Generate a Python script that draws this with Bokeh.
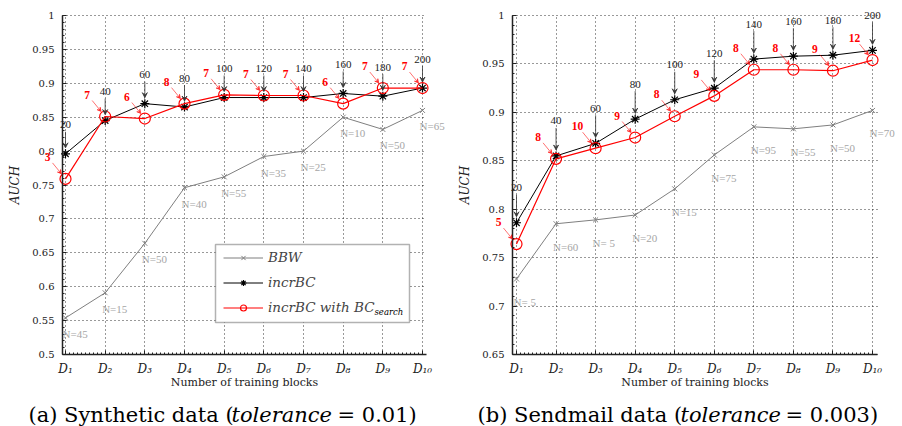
import numpy as np
from bokeh.plotting import figure
from bokeh.models import (ColumnDataSource, LabelSet, Arrow, VeeHead, Legend,
                          LegendItem, FixedTicker, Range1d, BoxAnnotation)
from bokeh.layouts import row, column
from bokeh.core.properties import value
from bokeh.embed import file_html
from bokeh.resources import INLINE

# ---------------- data ----------------
blocks = [1, 2, 3, 4, 5, 6, 7, 8, 9, 10]
block_labels = ["D\u2081", "D\u2082", "D\u2083", "D\u2084", "D\u2085",
                "D\u2086", "D\u2087", "D\u2088", "D\u2089", "D\u2081\u2080"]
incr_sizes = [20, 40, 60, 80, 100, 120, 140, 160, 180, 200]

# (a) Synthetic data
syn_bbw = [0.554, 0.591, 0.664, 0.746, 0.762, 0.792, 0.800, 0.850, 0.832, 0.860]
syn_incr = [0.796, 0.845, 0.870, 0.865, 0.879, 0.879, 0.879, 0.885, 0.881, 0.893]
syn_search = [0.759, 0.851, 0.848, 0.870, 0.883, 0.882, 0.882, 0.870, 0.893, 0.893]
syn_n = [45, 15, 50, 40, 55, 35, 25, 10, 50, 65]
syn_red = [3, 7, 6, 8, 7, 7, 7, 6, 7, 7]
syn_yticks = [0.5, 0.55, 0.6, 0.65, 0.7, 0.75, 0.8, 0.85, 0.9, 0.95, 1.0]
syn_ylabels = ["0.5", "0.55", "0.6", "0.65", "0.7", "0.75", "0.8", "0.85", "0.9", "0.95", "1"]
syn_caption = ["(a) Synthetic data (", "tolerance", " = 0.01)"]

# (b) Sendmail data
snd_bbw = [0.728, 0.785, 0.789, 0.794, 0.821, 0.856, 0.885, 0.883, 0.887, 0.902]
snd_incr = [0.786, 0.855, 0.868, 0.893, 0.913, 0.925, 0.955, 0.958, 0.959, 0.964]
snd_search = [0.764, 0.852, 0.863, 0.874, 0.896, 0.917, 0.944, 0.944, 0.943, 0.954]
snd_n = [5, 60, 5, 20, 15, 75, 95, 55, 50, 70]
snd_red = [5, 8, 10, 9, 8, 9, 8, 8, 9, 12]
snd_yticks = [0.65, 0.7, 0.75, 0.8, 0.85, 0.9, 0.95, 1.0]
snd_ylabels = ["0.65", "0.7", "0.75", "0.8", "0.85", "0.9", "0.95", "1"]
snd_caption = ["(b) Sendmail data (", "tolerance", " = 0.003)"]

FONT = "DejaVu Serif"
GRAY = "#7f7f7f"
NGRAY = "#a6a6a6"
RED = "#ff0000"
VIS_H = 339      # pixel height between lowest tick and 1.0
TOP_PAD = 15     # pixels above 1.0
MAIN_H = 398     # canvas height of each chart
AXIS_Y = TOP_PAD + VIS_H   # pixel row of the x axis


def make_panel(bbw, incr, search, n_vals, red_vals, yticks, ylabels,
               ppx, first_pad, axis_px, vis_w, width, black_up, n_down, legend=False):
    y_vis0 = yticks[0]
    ppy = VIS_H / (1.0 - y_vis0)
    y_end = 1.0 + TOP_PAD / ppy
    y_start = y_vis0 - (MAIN_H - AXIS_Y) / ppy
    x_vis0 = 1 - first_pad / ppx
    x_start = x_vis0 - axis_px / ppx
    x_end = x_start + width / ppx
    x_vis1 = x_vis0 + vis_w / ppx

    def px_x(px):
        return x_start + px / ppx

    def px_y(py):
        return y_start + (MAIN_H - py) / ppy

    p = figure(width=width, height=MAIN_H, x_range=Range1d(x_start, x_end),
               y_range=Range1d(y_start, y_end), output_backend="svg",
               toolbar_location=None, min_border=0)
    p.outline_line_color = None
    p.background_fill_color = "white"
    p.border_fill_color = "white"

    # axes
    p.xaxis.ticker = FixedTicker(ticks=blocks,
                                 minor_ticks=[t for t in np.round(np.arange(1, 10.05, 0.1), 2)])
    p.xaxis.major_label_overrides = {b: l for b, l in zip(blocks, block_labels)}
    p.yaxis.ticker = FixedTicker(ticks=yticks,
                                 minor_ticks=[t for t in np.round(np.arange(y_vis0, 1.0005, 0.01), 3)])
    p.yaxis.major_label_overrides = {t: l for t, l in zip(yticks, ylabels)}
    p.yaxis.fixed_location = x_vis0
    p.xaxis.fixed_location = y_vis0
    p.xaxis.bounds = (x_vis0, x_vis1)
    p.yaxis.bounds = (y_vis0, 1.0)
    for ax in (p.xaxis, p.yaxis):
        ax.axis_line_width = 1.5
        ax.axis_line_color = "#222222"
        ax.major_tick_in = 4
        ax.major_tick_out = 0
        ax.minor_tick_in = 2
        ax.minor_tick_out = 0
        ax.major_tick_line_color = "#222222"
        ax.minor_tick_line_color = "#222222"
        ax.major_label_text_font = FONT
        ax.axis_label_text_font = FONT
        ax.major_label_text_color = "#222222"
        ax.axis_label_text_color = "#222222"
    p.xaxis.major_label_text_font_size = "12px"
    p.xaxis.major_label_text_font_style = "italic"
    p.xaxis.major_label_standoff = 7
    p.xaxis.axis_label = "Number of training blocks"
    p.xaxis.axis_label_text_font_size = "11px"
    p.xaxis.axis_label_text_font_style = "normal"
    p.xaxis.axis_label_standoff = -3
    p.yaxis.major_label_text_font_size = "10px"
    p.yaxis.major_label_standoff = 8
    p.yaxis.axis_label = "AUCH"
    p.yaxis.axis_label_text_font_size = "12px"
    p.yaxis.axis_label_text_font_style = "italic"
    p.yaxis.axis_label_standoff = 7

    p.xgrid.cross_bounds = (y_vis0, 1.0)
    p.ygrid.cross_bounds = (x_vis0, x_vis1)
    for g in (p.xgrid, p.ygrid):
        g.grid_line_color = "black"
        g.grid_line_alpha = 0.8
        g.grid_line_dash = "1 3"
        g.grid_line_width = 1

    if legend:
        # white legend panel (hides the grid), drawn just above the grid
        p.add_layout(BoxAnnotation(left=px_x(215), right=px_x(409), top=px_y(244),
                                   bottom=px_y(322), fill_color="white", fill_alpha=1.0,
                                   line_color="black", line_width=1.5, level="underlay"))

    # series
    gl = p.line(blocks, bbw, line_color=GRAY, line_width=1)
    gm = p.scatter(blocks, bbw, marker="x", size=7, line_color=GRAY, line_width=1)
    bl = p.line(blocks, incr, line_color="black", line_width=1)
    bm = p.scatter(blocks, incr, marker="asterisk", size=9, line_color="black", line_width=1.2)
    rl = p.line(blocks, search, line_color=RED, line_width=1.2)
    rm = p.scatter(blocks, search, marker="circle", size=11, line_color=RED,
                   fill_color=None, line_width=1.2)

    # N labels
    nsrc = ColumnDataSource(dict(x=blocks, y=bbw, text=[f"N={n:2d}" for n in n_vals]))
    p.add_layout(LabelSet(x="x", y="y", text="text", source=nsrc, x_offset=-3,
                          y_offset=-n_down, text_align="left", text_baseline="middle",
                          text_font=FONT, text_font_size="11px", text_color=NGRAY))

    # black size labels with arrows
    bsrc = ColumnDataSource(dict(
        x=blocks, y=incr, text=[str(s) for s in incr_sizes],
        ys=[v + (black_up - 7) / ppy for v in incr],
        ye=[v + 6 / ppy for v in incr]))
    p.add_layout(LabelSet(x="x", y="y", text="text", source=bsrc, y_offset=black_up,
                          text_align="center", text_baseline="middle",
                          text_font=FONT, text_font_size="11px", text_color="#222222"))
    p.add_layout(Arrow(source=bsrc, x_start="x", y_start="ys", x_end="x", y_end="ye",
                       line_color="#333333", line_width=0.8,
                       end=VeeHead(size=5, line_color="#333333", fill_color="#333333",
                                   line_width=0.8)))

    # red labels with arrows
    rsrc = ColumnDataSource(dict(
        x=blocks, y=search, text=[str(r) for r in red_vals],
        xs=[b - 13 / ppx for b in blocks], ys=[v + 16 / ppy for v in search],
        xe=[b - 4 / ppx for b in blocks], ye=[v + 5 / ppy for v in search]))
    p.add_layout(LabelSet(x="x", y="y", text="text", source=rsrc, x_offset=-18,
                          y_offset=22, text_align="center", text_baseline="middle",
                          text_font=FONT, text_font_size="11.5px", text_font_style="bold",
                          text_color=RED))
    p.add_layout(Arrow(source=rsrc, x_start="xs", y_start="ys", x_end="xe", y_end="ye",
                       line_color=RED, line_alpha=0.7, line_width=0.8,
                       end=VeeHead(size=4, line_color=RED, fill_color=RED,
                                   line_alpha=0.7, fill_alpha=0.7, line_width=0.8)))

    if legend:
        leg = Legend(items=[LegendItem(label="BBW", renderers=[gl, gm]),
                            LegendItem(label="incrBC", renderers=[bl, bm]),
                            LegendItem(label="incrBC with BC", renderers=[rl, rm])],
                     location=(223, MAIN_H - 315), padding=8, spacing=9, glyph_width=40,
                     glyph_height=15, label_standoff=5, label_width=120, margin=0,
                     label_text_font=FONT, label_text_font_style="italic",
                     label_text_font_size="13.5px", border_line_color=None,
                     background_fill_alpha=0.0)
        p.add_layout(leg)
        p.text(x=[px_x(374)], y=[px_y(311)], text=["search"], text_font=value(FONT),
               text_font_style="italic", text_font_size="8.5px",
               text_baseline="alphabetic", text_align="left", text_color="black")
    return p


def make_caption(width, segs, xs):
    c = figure(width=width, height=426 - MAIN_H, x_range=Range1d(0, width),
               y_range=Range1d(0, 426 - MAIN_H), output_backend="svg",
               toolbar_location=None, min_border=0, x_axis_type=None, y_axis_type=None)
    c.outline_line_color = None
    for txt, style, x in zip(segs, ["normal", "italic", "normal"], xs):
        c.text(x=[x], y=[12], text=[txt], text_font=value(FONT), text_font_style=style,
               text_font_size="21px", text_baseline="alphabetic", text_align="left",
               text_color="black")
    return c


p1 = make_panel(syn_bbw, syn_incr, syn_search, syn_n, syn_red, syn_yticks, syn_ylabels,
                ppx=357 / 9, first_pad=3, axis_px=62, vis_w=364, width=452,
                black_up=29, n_down=16, legend=True)
p2 = make_panel(snd_bbw, snd_incr, snd_search, snd_n, snd_red, snd_yticks, snd_ylabels,
                ppx=356 / 9, first_pad=4, axis_px=60, vis_w=365, width=450,
                black_up=35, n_down=23)
c1 = make_caption(452, syn_caption, [28, 231, 337])
c2 = make_caption(450, snd_caption, [25, 228, 333])

layout = column(row(p1, p2), row(c1, c2))
open("out.html", "w").write(file_html(layout, INLINE))
